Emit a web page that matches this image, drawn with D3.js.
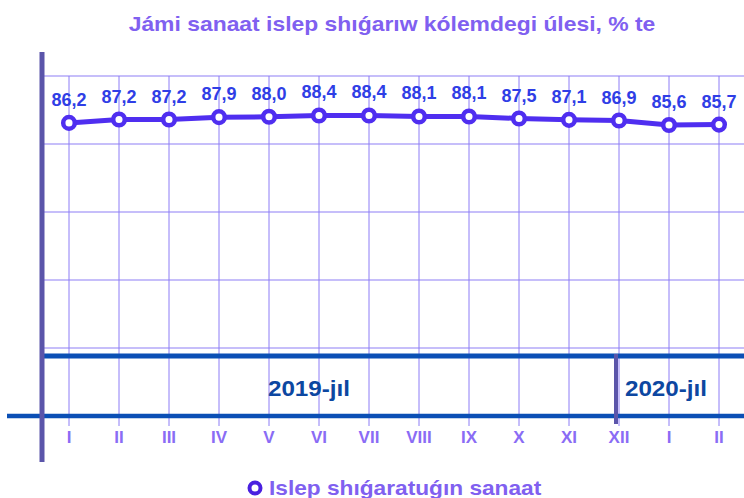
<!DOCTYPE html>
<html>
<head>
<meta charset="utf-8">
<script src="https://d3js.org/d3.v7.min.js"></script>
<style>
  body { margin: 0; background: #fff; }
  svg { display: block; font-family: Arial, "Liberation Sans", sans-serif; font-weight: bold; }
</style>
</head>
<body>
<svg width="744" height="498"></svg>
<script>
var months = ["I", "II", "III", "IV", "V", "VI", "VII", "VIII", "IX", "X", "XI", "XII", "I", "II"];
var values = [86.2, 87.2, 87.2, 87.9, 88.0, 88.4, 88.4, 88.1, 88.1, 87.5, 87.1, 86.9, 85.6, 85.7];
var yTicks = [20, 40, 60, 80, 100];
var years = [
  { label: "2019-jıl", at: 5, shift: -10 },
  { label: "2020-jıl", at: 12, shift: -3 }
];
var title = "Jámi sanaat islep shıǵarıw kólemdegi úlesi, % te";
var seriesName = "Islep shıǵaratuǵın sanaat";

var svg = d3.select("svg");

var x = d3.scaleBand()
  .domain(d3.range(months.length))
  .range([44, 744]);
var cx = function(i) { return x(i) + x.bandwidth() / 2; };

var y = d3.scaleLinear()
  .domain([0, 100])
  .range([416, 76]);

var lineColor = "#4f2ef0";

// widen text a bit, the original font looks stretched
function stretch(sel, k) {
  sel.each(function() {
    var w = this.getComputedTextLength();
    d3.select(this)
      .attr("textLength", w * k)
      .attr("lengthAdjust", "spacingAndGlyphs");
  });
}

// title
svg.append("text")
  .attr("x", 392)
  .attr("y", 31)
  .attr("text-anchor", "middle")
  .attr("font-size", 21)
  .attr("fill", "#8060f0")
  .text(title)
  .call(stretch, 1.09);

// horizontal gridlines
svg.append("g")
  .selectAll("line")
  .data(yTicks)
  .enter().append("line")
  .attr("x1", 42).attr("x2", 744)
  .attr("y1", function(d) { return y(d); })
  .attr("y2", function(d) { return y(d); })
  .attr("stroke", "#b3a8f8")
  .attr("stroke-width", 1.5);

// vertical gridlines
svg.append("g")
  .selectAll("line")
  .data(months)
  .enter().append("line")
  .attr("x1", function(d, i) { return cx(i); })
  .attr("x2", function(d, i) { return cx(i); })
  .attr("y1", y(100))
  .attr("y2", y(0) + 10)
  .attr("stroke", "#8c7cf6")
  .attr("stroke-width", 1);

// year band
var bandTop = y(0) - 60;
svg.append("line")
  .attr("x1", 44).attr("x2", 744)
  .attr("y1", bandTop).attr("y2", bandTop)
  .attr("stroke", "#0b4fb5")
  .attr("stroke-width", 5);

svg.append("line")
  .attr("x1", 7).attr("x2", 744)
  .attr("y1", y(0)).attr("y2", y(0))
  .attr("stroke", "#0b4fb5")
  .attr("stroke-width", 4.5);

svg.append("line")
  .attr("x1", cx(11) - 3).attr("x2", cx(11) - 3)
  .attr("y1", bandTop - 2).attr("y2", y(0) + 8)
  .attr("stroke", "#5b55aa")
  .attr("stroke-width", 4);

svg.append("g")
  .selectAll("text")
  .data(years)
  .enter().append("text")
  .attr("x", function(d) { return cx(d.at) + d.shift; })
  .attr("y", (bandTop + y(0)) / 2 + 10)
  .attr("text-anchor", "middle")
  .attr("font-size", 22)
  .attr("fill", "#0d47a1")
  .text(function(d) { return d.label; })
  .call(stretch, 1.1);

// left axis bar
svg.append("line")
  .attr("x1", 42).attr("x2", 42)
  .attr("y1", 52).attr("y2", 462)
  .attr("stroke", "#5b55aa")
  .attr("stroke-width", 5);

// month tick labels
svg.append("g")
  .selectAll("text")
  .data(months)
  .enter().append("text")
  .attr("x", function(d, i) { return cx(i); })
  .attr("y", 443)
  .attr("text-anchor", "middle")
  .attr("font-size", 17)
  .attr("fill", "#8a6cf5")
  .text(function(d) { return d; });

// series line
var line = d3.line()
  .x(function(d, i) { return cx(i); })
  .y(function(d) { return y(d); });

svg.append("path")
  .datum(values)
  .attr("d", line)
  .attr("fill", "none")
  .attr("stroke", lineColor)
  .attr("stroke-width", 5);

svg.append("g")
  .selectAll("circle")
  .data(values)
  .enter().append("circle")
  .attr("cx", function(d, i) { return cx(i); })
  .attr("cy", function(d) { return y(d); })
  .attr("r", 5.8)
  .attr("fill", "#fff")
  .attr("stroke", lineColor)
  .attr("stroke-width", 4.5);

// data labels
svg.append("g")
  .selectAll("text")
  .data(values)
  .enter().append("text")
  .attr("x", function(d, i) { return cx(i); })
  .attr("y", function(d) { return y(d) - 17; })
  .attr("text-anchor", "middle")
  .attr("font-size", 18)
  .attr("fill", "#2f3ee6")
  .text(function(d) { return d.toFixed(1).replace(".", ","); });

// legend
var legend = svg.append("g");
legend.append("circle")
  .attr("cx", 255).attr("cy", 488)
  .attr("r", 5.5)
  .attr("fill", "#fff")
  .attr("stroke", "#4a20e0")
  .attr("stroke-width", 4);
legend.append("text")
  .attr("x", 269)
  .attr("y", 495)
  .attr("font-size", 21)
  .attr("fill", "#8060f0")
  .text(seriesName)
  .call(stretch, 1.08);
</script>
</body>
</html>
